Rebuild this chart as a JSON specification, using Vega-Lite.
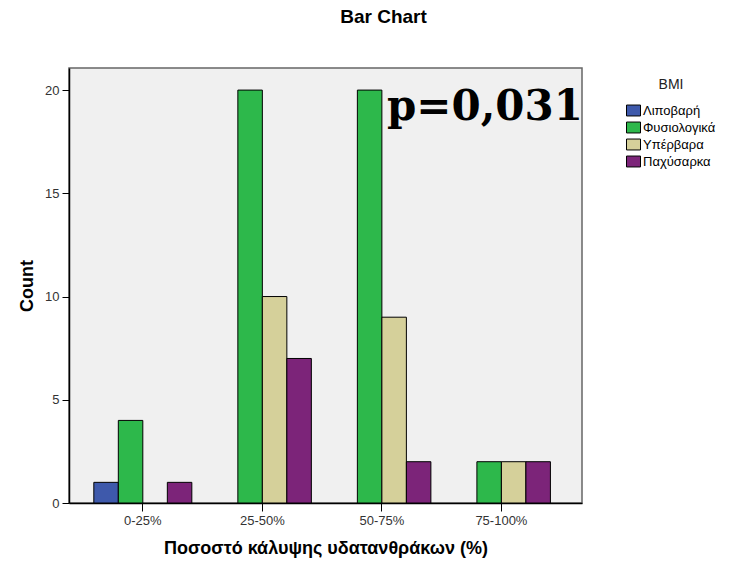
{
  "$schema": "https://vega.github.io/schema/vega-lite/v6.json",
  "width": 513,
  "height": 435,
  "padding": {"left": 18, "top": 8, "right": 5, "bottom": 5},
  "background": "white",
  "title": {"text": "Bar Chart", "font": "Liberation Sans", "fontSize": 19, "fontWeight": "bold", "color": "#000", "anchor": "middle", "offset": 41, "dx": 58},
  "config": {
    "font": "Liberation Sans",
    "view": {"fill": "#F0F0F0", "stroke": "#666", "strokeWidth": 1.5},
    "axis": {"labelFont": "Liberation Sans", "titleFont": "Liberation Sans", "labelFontSize": 13, "labelColor": "#333", "titleFontSize": 18, "titleFontWeight": "bold", "titleColor": "#000", "domainColor": "#000", "domainWidth": 1.5, "tickColor": "#000", "grid": false}
  },
  "layer": [
    {
      "data": {"values": [
        {"carb": "0-25%", "bmi": "Λιποβαρή", "count": 1},
        {"carb": "0-25%", "bmi": "Φυσιολογικά", "count": 4},
        {"carb": "0-25%", "bmi": "Παχύσαρκα", "count": 1},
        {"carb": "25-50%", "bmi": "Φυσιολογικά", "count": 20},
        {"carb": "25-50%", "bmi": "Υπέρβαρα", "count": 10},
        {"carb": "25-50%", "bmi": "Παχύσαρκα", "count": 7},
        {"carb": "50-75%", "bmi": "Φυσιολογικά", "count": 20},
        {"carb": "50-75%", "bmi": "Υπέρβαρα", "count": 9},
        {"carb": "50-75%", "bmi": "Παχύσαρκα", "count": 2},
        {"carb": "75-100%", "bmi": "Φυσιολογικά", "count": 2},
        {"carb": "75-100%", "bmi": "Υπέρβαρα", "count": 2},
        {"carb": "75-100%", "bmi": "Παχύσαρκα", "count": 2}
      ]},
      "mark": {"type": "bar", "stroke": "#000", "strokeWidth": 1, "opacity": 1},
      "encoding": {
        "x": {"field": "carb", "type": "nominal",
          "scale": {"domain": ["0-25%", "25-50%", "50-75%", "75-100%"], "paddingInner": 0.18, "paddingOuter": 0.236, "align": 0.44},
          "axis": {"title": "Ποσοστό κάλυψης υδατανθράκων (%)", "labelAngle": 0, "tickSize": 8, "labelPadding": 3, "titlePadding": 12}},
        "xOffset": {"field": "bmi", "type": "nominal", "scale": {"domain": ["Λιποβαρή", "Φυσιολογικά", "Υπέρβαρα", "Παχύσαρκα"], "paddingInner": 0, "paddingOuter": 0}},
        "y": {"field": "count", "type": "quantitative",
          "scale": {"domain": [0, 21.07], "nice": false, "zero": true},
          "axis": {"title": "Count", "values": [0, 5, 10, 15, 20], "tickSize": 7, "labelPadding": 3, "titlePadding": 8}},
        "color": {"field": "bmi", "type": "nominal",
          "scale": {"domain": ["Λιποβαρή", "Φυσιολογικά", "Υπέρβαρα", "Παχύσαρκα"], "range": ["#3E59AB", "#2DB84B", "#D5D09A", "#7C2479"]},
          "legend": {"title": "BMI", "orient": "none", "legendX": 557, "legendY": 10, "titleFont": "Liberation Sans", "titleFontSize": 14, "titleFontWeight": "normal", "titleColor": "#222", "titleAnchor": "middle", "titlePadding": 11, "labelFont": "Liberation Sans", "labelFontSize": 13, "labelColor": "#000", "symbolType": "M-1,-0.78H1V0.78H-1Z", "symbolSize": 196, "symbolStrokeColor": "#000", "symbolStrokeWidth": 1, "symbolOpacity": 1, "labelOffset": 2, "rowPadding": 2}}
      }
    },
    {
      "data": {"values": [{"label": "p=0,031", "carb": "50-75%", "yv": 18.55}]},
      "mark": {"type": "text", "font": "DejaVu Serif", "fontWeight": "bold", "fontSize": 42, "align": "left", "baseline": "alphabetic", "dx": 5, "color": "#000"},
      "encoding": {
        "x": {"field": "carb", "type": "nominal"},
        "y": {"field": "yv", "type": "quantitative"},
        "text": {"field": "label"}
      }
    }
  ]
}
